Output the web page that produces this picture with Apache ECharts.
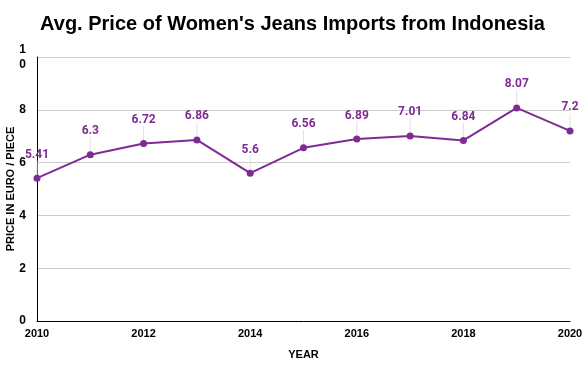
<!DOCTYPE html>
<html><head><meta charset="utf-8">
<script src="https://cdn.jsdelivr.net/npm/echarts@6/dist/echarts.min.js"></script>
<style>html,body{margin:0;padding:0;background:#fff}#c{width:585px;height:371px}</style>
</head><body><div id="c"></div>
<script>
const years = [2010, 2011, 2012, 2013, 2014, 2015, 2016, 2017, 2018, 2019, 2020];
const prices = [5.41, 6.3, 6.72, 6.86, 5.6, 6.56, 6.89, 7.01, 6.84, 8.07, 7.2];
const titleText = "Avg. Price of Women's Jeans Imports from Indonesia";
const xName = "YEAR";
const yName = "PRICE IN EURO / PIECE";

const purple = '#7e2b93';
const chart = echarts.init(document.getElementById('c'));
chart.setOption({
  animation: false,
  title: {
    text: titleText, left: 'center', top: 9,
    textStyle: {fontFamily: 'Liberation Sans', fontWeight: 'bold', fontSize: 20, color: '#000'}
  },
  grid: {left: 37, right: 15, top: 57, bottom: 50, outerBoundsMode: 'none', containLabel: false},
  xAxis: {
    type: 'value', min: 2010, max: 2020, interval: 2,
    name: xName, nameLocation: 'middle', nameGap: 28, nameMoveOverlap: false,
    nameTextStyle: {fontFamily: 'Liberation Sans', fontWeight: 'bold', fontSize: 11, color: '#000'},
    axisLine: {lineStyle: {color: '#000', width: 1}},
    axisTick: {show: false},
    splitLine: {show: false},
    axisLabel: {fontFamily: 'Liberation Sans', fontWeight: 'bold', fontSize: 11, color: '#000', margin: 7,
      formatter: v => String(v)}
  },
  yAxis: {
    type: 'value', min: 0, max: 10, interval: 2,
    name: yName, nameLocation: 'middle', nameGap: 21, nameMoveOverlap: false,
    nameTextStyle: {fontFamily: 'Liberation Sans', fontWeight: 'bold', fontSize: 11, color: '#000'},
    axisLine: {show: true, lineStyle: {color: '#000', width: 1}},
    axisTick: {show: false},
    splitLine: {lineStyle: {color: '#cccccc'}},
    axisLabel: {
      fontFamily: 'Liberation Sans', fontWeight: 'bold', fontSize: 12, color: '#000', margin: 11,
      lineHeight: 15,
      formatter: v => v === 10 ? '1\n0' : String(v)
    }
  },
  series: [{
    type: 'line',
    data: years.map((y, i) => [y, prices[i]]),
    color: purple,
    lineStyle: {color: purple, width: 2},
    symbol: 'circle', symbolSize: 7,
    itemStyle: {color: purple},
    label: {
      show: true, position: 'top', distance: 4,
      fontFamily: 'Roboto', fontWeight: 'bold', fontSize: 12, color: purple,
      formatter: p => String(p.value[1])
    },
    labelLayout: {dy: -10},
    labelLine: {show: true, lineStyle: {color: '#e0e0e0', width: 1}}
  }]
});
</script></body></html>
